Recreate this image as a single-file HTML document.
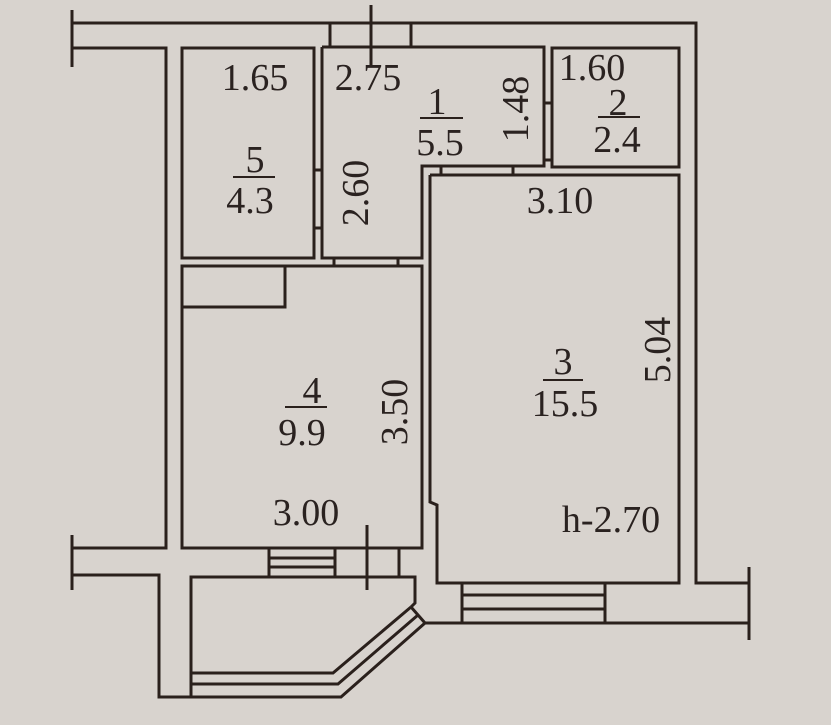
<!DOCTYPE html>
<html><head><meta charset="utf-8"><style>
html,body{margin:0;padding:0;background:#d8d3ce}
svg{display:block}
text{font-family:"Liberation Serif",serif;font-size:38px;fill:#2a2220}
</style></head><body>
<svg width="831" height="725" viewBox="0 0 831 725">
<rect width="831" height="725" fill="#d8d3ce"/>
<g fill="none" stroke="#2a201c" stroke-width="3" stroke-linejoin="miter">
<polyline points="72,23 696,23 696,583 749,583"/>
<line x1="72" y1="10" x2="72" y2="67"/>
<polyline points="72,48 166,48 166,548 72,548"/>
<line x1="371" y1="5" x2="371" y2="65"/>
<line x1="330" y1="23" x2="330" y2="46"/>
<line x1="411" y1="23" x2="411" y2="46"/>
<rect x="182" y="48" width="132" height="210"/>
<polyline points="322,47 544,47 544,166 422,166 422,258 322,258 322,47"/>
<line x1="314" y1="170" x2="322" y2="170"/><line x1="314" y1="228" x2="322" y2="228"/>
<rect x="552" y="48" width="127" height="119"/>
<line x1="544" y1="103" x2="552" y2="103"/><line x1="544" y1="160" x2="552" y2="160"/>
<polyline points="430,175 679,175 679,583 437,583 437,505 430,502 430,175"/>
<line x1="441" y1="166" x2="441" y2="175"/><line x1="513" y1="166" x2="513" y2="175"/>
<rect x="182" y="266" width="240" height="282"/>
<polyline points="182,307 285,307 285,266"/>
<line x1="334" y1="258" x2="334" y2="266"/><line x1="398" y1="258" x2="398" y2="266"/>
<line x1="367" y1="525" x2="367" y2="590"/>
<line x1="72" y1="535" x2="72" y2="590"/>
<polyline points="72,575 159,575 159,697 191,697"/>
<polyline points="191,697 191,577 415,577 415,603 411,607"/>
<rect x="269" y="548" width="66" height="29"/>
<line x1="269" y1="558" x2="335" y2="558"/><line x1="269" y1="567" x2="335" y2="567"/>
<line x1="399" y1="548" x2="399" y2="577"/>
<polyline points="191,673 333,673 411,607"/>
<polyline points="191,684 338,684 418,615"/>
<polyline points="191,697 341,697 425,623"/>
<line x1="411" y1="607" x2="425" y2="623"/>
<polyline points="425,623 749,623"/>
<line x1="749" y1="567" x2="749" y2="640"/>
<rect x="462" y="583" width="143" height="40"/>
<line x1="462" y1="595" x2="605" y2="595"/><line x1="462" y1="609" x2="605" y2="609"/>
<line x1="420" y1="118" x2="463" y2="118" stroke-width="2"/>
<line x1="598" y1="117" x2="640" y2="117" stroke-width="2"/>
<line x1="233" y1="177" x2="275" y2="177" stroke-width="2"/>
<line x1="543" y1="380" x2="583" y2="380" stroke-width="2"/>
<line x1="285" y1="407" x2="327" y2="407" stroke-width="2"/>
</g>
<g text-anchor="middle">
<text x="255" y="90">1.65</text>
<text x="368" y="90">2.75</text>
<text x="437" y="114">1</text>
<text x="440" y="155">5.5</text>
<text x="592" y="80">1.60</text>
<text x="618" y="115">2</text>
<text x="617" y="152">2.4</text>
<text x="255" y="172">5</text>
<text x="250" y="213">4.3</text>
<text x="560" y="213">3.10</text>
<text x="563" y="374">3</text>
<text x="565" y="416">15.5</text>
<text x="312" y="403">4</text>
<text x="302" y="445">9.9</text>
<text x="306" y="525">3.00</text>
<text x="611" y="532">h-2.70</text>
<text transform="translate(528,109) rotate(-90)">1.48</text>
<text transform="translate(368,193) rotate(-90)">2.60</text>
<text transform="translate(670,350) rotate(-90)">5.04</text>
<text transform="translate(407,412) rotate(-90)">3.50</text>
</g>
</svg>
</body></html>
